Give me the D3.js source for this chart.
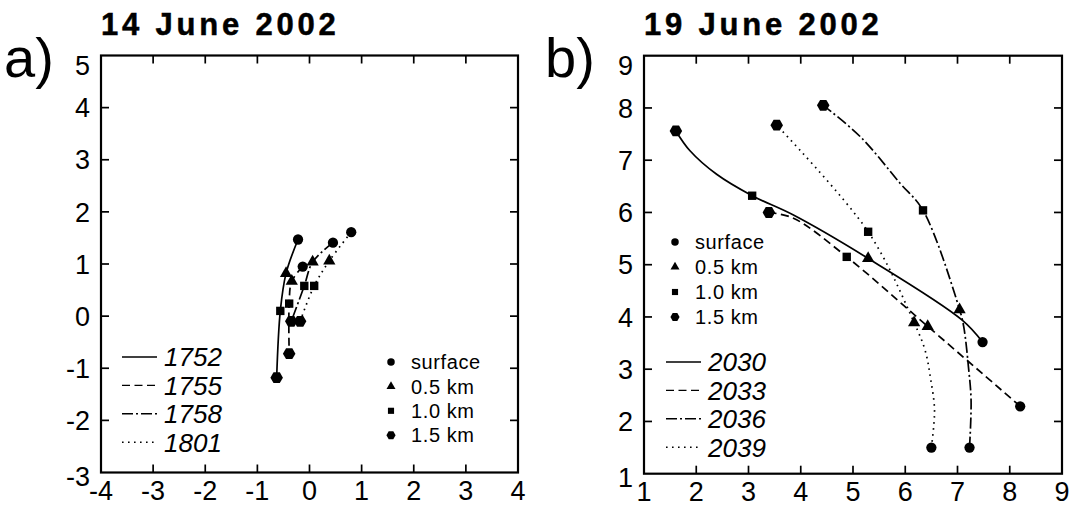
<!DOCTYPE html>
<html><head><meta charset="utf-8">
<script src="https://cdn.jsdelivr.net/npm/d3@7"></script>
<style>body{margin:0;background:#fff}svg{display:block}text{font-family:"Liberation Sans",Arial,sans-serif;fill:#000}</style>
</head><body><svg id="c" width="1071" height="506"></svg>
<script>
// ---------- data ----------
const levelNames = ["surface", "0.5 km", "1.0 km", "1.5 km"];
const xTicksA = [-4, -3, -2, -1, 0, 1, 2, 3, 4];
const yTicksA = [-3, -2, -1, 0, 1, 2, 3, 4, 5];
const xTicksB = [1, 2, 3, 4, 5, 6, 7, 8, 9];
const yTicksB = [1, 2, 3, 4, 5, 6, 7, 8, 9];
const timesA = ["1752", "1755", "1758", "1801"];
const timesB = ["2030", "2033", "2036", "2039"];
// [x, y, level index or null (unmarked vertex)]
const a1752 = [[-0.22, 1.47, 0], [-0.45, 0.82, 1], [-0.56, 0.10, 2], [-0.63, -1.18, 3]];
const a1755 = [[-0.13, 0.95, 0], [-0.34, 0.67, 1], [-0.39, 0.24, 2], [-0.39, -0.72, 3]];
const a1758 = [[0.45, 1.41, 0], [0.06, 1.04, 1], [-0.10, 0.58, 2], [-0.35, -0.10, 3]];
const a1801 = [[0.80, 1.61, 0], [0.38, 1.06, 1], [0.09, 0.58, 2], [-0.18, -0.10, 3]];
const b2030 = [[7.48, 3.52, 0], [7.09, 3.94, null], [5.29, 5.12, 1], [3.86, 5.95, null], [3.07, 6.32, 2], [2.39, 6.73, null], [1.88, 7.18, null], [1.61, 7.56, 3]];
const b2033 = [[8.20, 2.29, 0], [6.43, 3.82, 1], [4.88, 5.15, 2], [3.86, 5.89, null], [3.39, 6.00, 3]];
const b2036 = [[7.23, 1.50, 0], [7.26, 2.40, null], [7.21, 3.04, null], [7.12, 3.81, null], [7.04, 4.14, 1], [6.34, 6.04, 2], [5.90, 6.56, null], [5.14, 7.45, null], [4.43, 8.05, 3]];
const b2039 = [[6.50, 1.50, 0], [6.56, 2.21, null], [6.48, 2.85, null], [6.38, 3.36, null], [6.17, 3.89, 1], [5.29, 5.63, 2], [3.54, 7.67, 3]];

// ---------- styles ----------
const dashes = [null, "8,4.5", "11,3,2,3", "1.6,4.4"];
const svg = d3.select("#c");

function hexPath(r) {
  const pts = d3.range(6).map(i => [r * Math.cos(i * Math.PI / 3), r * Math.sin(i * Math.PI / 3)]);
  return "M" + pts.map(p => p.join(",")).join("L") + "Z";
}
function markerPath(level, big) {
  const k = big ? 1.12 : 0.82;
  if (level === 0) return d3.symbol(d3.symbolCircle, 66 * k * k)();
  if (level === 1) return d3.symbol(d3.symbolTriangle, 52 * k * k)();
  if (level === 2) return d3.symbol(d3.symbolSquare, 56 * k * k)();
  return hexPath(5.6 * k);
}

function panel(cfg) {
  const g = svg.append("g");
  const x = d3.scaleLinear().domain(d3.extent(cfg.xTicks)).range([cfg.left, cfg.left + cfg.size]);
  const y = d3.scaleLinear().domain(d3.extent(cfg.yTicks)).range([cfg.top + cfg.size, cfg.top]);
  const x0 = cfg.left, x1 = cfg.left + cfg.size, y0 = cfg.top, y1 = cfg.top + cfg.size;
  const inner = (arr) => arr.slice(1, -1);
  inner(cfg.xTicks).forEach(v => {
    g.append("line").attr("x1", x(v)).attr("x2", x(v)).attr("y1", y1).attr("y2", y1 - 8).attr("stroke", "#000").attr("stroke-width", 1.7);
    g.append("line").attr("x1", x(v)).attr("x2", x(v)).attr("y1", y0).attr("y2", y0 + 8).attr("stroke", "#000").attr("stroke-width", 1.7);
  });
  inner(cfg.yTicks).forEach(v => {
    g.append("line").attr("y1", y(v)).attr("y2", y(v)).attr("x1", x0).attr("x2", x0 + 8).attr("stroke", "#000").attr("stroke-width", 1.7);
    g.append("line").attr("y1", y(v)).attr("y2", y(v)).attr("x1", x1).attr("x2", x1 - 8).attr("stroke", "#000").attr("stroke-width", 1.7);
  });
  g.append("rect").attr("x", x0).attr("y", y0).attr("width", cfg.size).attr("height", cfg.size)
    .attr("fill", "none").attr("stroke", "#000").attr("stroke-width", 2.2);
  // tick labels
  cfg.xTicks.forEach(v => {
    g.append("text").attr("x", x(v)).attr("y", y1 + 27.5).attr("text-anchor", "middle")
      .attr("font-size", 27).text(v);
  });
  cfg.yTicks.forEach((v, i) => {
    const off = i === cfg.yTicks.length - 1 ? 10 : (i === 0 ? 4 : 0);
    g.append("text").attr("x", x0 - 11).attr("y", y(v) + off).attr("dy", "0.36em").attr("text-anchor", "end")
      .attr("font-size", 27).text(v);
  });
  // titles
  g.append("text").attr("x", x0).attr("y", 35).attr("font-size", 31).attr("font-weight", "bold")
    .attr("letter-spacing", 3.8).attr("stroke", "#000").attr("stroke-width", 0.5).text(cfg.title);
  g.append("text").attr("x", cfg.labelX).attr("y", 77).attr("font-size", 56).text(cfg.label);
  // series lines
  const line = d3.line().x(d => x(d[0])).y(d => y(d[1])).curve(d3.curveCatmullRom.alpha(0.5));
  cfg.series.forEach((s, i) => {
    g.append("path").attr("d", line(s)).attr("fill", "none").attr("stroke", "#000")
      .attr("stroke-width", 1.7).attr("stroke-dasharray", dashes[i]);
  });
  cfg.series.forEach(s => {
    s.filter(d => d[2] !== null).forEach(d => {
      g.append("path").attr("d", markerPath(d[2], true))
        .attr("transform", `translate(${x(d[0])},${y(d[1])})`).attr("fill", "#000");
    });
  });
  // line legend
  cfg.times.forEach((t, i) => {
    const yy = cfg.lineLeg.y + i * cfg.lineLeg.dy;
    g.append("line").attr("x1", cfg.lineLeg.x).attr("x2", cfg.lineLeg.x + 35).attr("y1", yy).attr("y2", yy)
      .attr("stroke", "#000").attr("stroke-width", 1.4).attr("stroke-dasharray", dashes[i]);
    g.append("text").attr("x", cfg.lineLeg.x + 42).attr("y", yy).attr("dy", "0.36em")
      .attr("font-size", 26).attr("font-style", "italic").text(t);
  });
  // marker legend
  levelNames.forEach((n, i) => {
    const yy = cfg.markLeg.y + i * cfg.markLeg.dy;
    g.append("path").attr("d", markerPath(i, false)).attr("transform", `translate(${cfg.markLeg.x},${yy})`).attr("fill", "#000");
    g.append("text").attr("x", cfg.markLeg.x + 20).attr("y", yy).attr("dy", "0.36em")
      .attr("font-size", 20).attr("letter-spacing", 0.6).text(n);
  });
}

panel({
  left: 101, top: 55.5, size: 417, xTicks: xTicksA, yTicks: yTicksA,
  title: "14 June 2002", label: "a)", labelX: 4, times: timesA,
  series: [a1752, a1755, a1758, a1801],
  lineLeg: { x: 122, y: 357, dy: 28.4 }, markLeg: { x: 391, y: 362, dy: 24.4 }
});
panel({
  left: 644, top: 55.7, size: 418, xTicks: xTicksB, yTicks: yTicksB,
  title: "19 June 2002", label: "b)", labelX: 545, times: timesB,
  series: [b2030, b2033, b2036, b2039],
  lineLeg: { x: 666, y: 362, dy: 28.4 }, markLeg: { x: 675, y: 242, dy: 25 }
});
</script></body></html>
